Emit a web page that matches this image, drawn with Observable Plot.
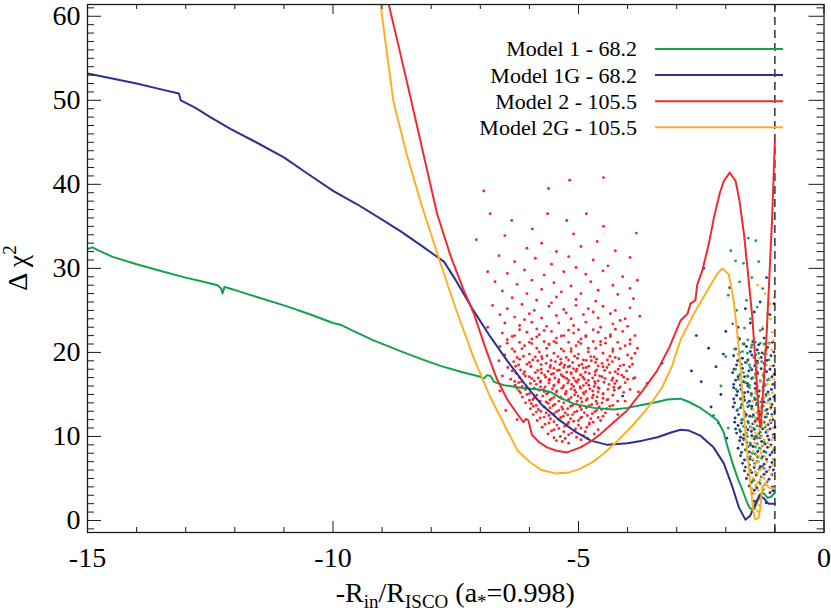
<!DOCTYPE html>
<html><head><meta charset="utf-8">
<script src="https://cdn.jsdelivr.net/npm/d3@7"></script>
<script src="https://cdn.jsdelivr.net/npm/@observablehq/plot@0.6"></script>
<style>body{margin:0;background:#fff} svg{display:block} svg text{font-family:"Liberation Serif","Times New Roman",Times,serif}</style>
</head><body><div id="chart"></div>
<script>
// ---------- data ----------
const xMajor = [-15, -10, -5, 0];
const xMinor = [-14, -13, -12, -11, -9, -8, -7, -6, -4, -3, -2, -1];
const yMajor = [0, 10, 20, 30, 40, 50, 60];
const yMinor = [-1,1,2,3,4,5,6,7,8,9,11,12,13,14,15,16,17,18,19,21,22,23,24,25,26,27,28,29,31,32,33,34,35,36,37,38,39,41,42,43,44,45,46,47,48,49,51,52,53,54,55,56,57,58,59,61];

const legendLabels = ["Model 1 - 68.2", "Model 1G - 68.2", "Model 2 - 105.5", "Model 2G - 105.5"];
const seriesColors = ["#14a14f", "#2b3190", "#ee2b31", "#fbb126"];
const rinLine = [-1];

const model1 = [[-15,32.3],[-14.9,32.5],[-14.8,32.2],[-14.5,31.4],[-14.0,30.5],[-13.45,29.6],[-13.0,28.9],[-12.64,28.4],[-12.35,28.0],[-12.28,27.6],[-12.25,27.0],[-12.21,27.8],[-12.1,27.6],[-11.88,27.2],[-11.5,26.5],[-11.0,25.6],[-10.5,24.6],[-10.0,23.5],[-9.85,23.3],[-9.6,22.6],[-9.2,21.5],[-8.6,20.1],[-8.2,19.2],[-7.81,18.4],[-7.4,17.7],[-7.0,17.1],[-6.93,16.9],[-6.86,17.3],[-6.79,17.2],[-6.72,16.5],[-6.52,16.1],[-6.18,15.8],[-5.8,15.6],[-5.57,15.3],[-5.37,14.6],[-5.1,13.9],[-4.69,13.4],[-4.29,13.2],[-4.0,13.4],[-3.74,13.7],[-3.4,14.1],[-3.19,14.4],[-2.92,14.5],[-2.75,14.1],[-2.52,13.4],[-2.35,12.7],[-2.17,11.9],[-2.05,10.6],[-1.97,8.9],[-1.84,6.4],[-1.75,4.9],[-1.66,3.6],[-1.55,1.9],[-1.5,1.4],[-1.42,1.4],[-1.36,2.2],[-1.31,3.0],[-1.26,3.3],[-1.22,3.2],[-1.15,2.7],[-1.08,2.8],[-1.05,3.0],[-1.0,3.3]];

const model1G = [[-15,53.2],[-14.5,52.6],[-14.0,52.0],[-13.5,51.3],[-13.14,50.8],[-13.1,50.0],[-12.8,49.1],[-12.5,48.0],[-12.09,46.6],[-11.5,44.8],[-11.0,43.2],[-10.5,41.2],[-9.99,39.2],[-9.5,37.6],[-9.0,35.8],[-8.62,34.4],[-8.2,32.7],[-7.74,30.8],[-7.5,28.6],[-7.14,25.0],[-6.8,21.9],[-6.45,19.0],[-6.1,16.3],[-5.77,13.9],[-5.4,12.0],[-5.1,10.7],[-4.75,9.5],[-4.41,9.0],[-4.0,9.2],[-3.7,9.5],[-3.39,9.9],[-3.1,10.5],[-2.92,10.8],[-2.75,10.7],[-2.52,10.1],[-2.25,8.7],[-2.04,6.8],[-1.86,3.9],[-1.73,1.5],[-1.6,0.1],[-1.5,0.6],[-1.39,2.1],[-1.31,3.0],[-1.22,2.6],[-1.13,2.0],[-1.0,2.0]];

const model2 = [[-8.95,63.5],[-8.69,57.1],[-8.42,50.3],[-8.15,43.4],[-7.88,36.5],[-7.6,31.4],[-7.35,27.6],[-7.13,24.6],[-6.9,20.6],[-6.66,16.8],[-6.45,14.4],[-6.25,12.7],[-6.12,11.7],[-6.07,12.1],[-6.02,11.9],[-5.95,10.2],[-5.8,9.3],[-5.64,8.7],[-5.45,8.3],[-5.23,8.1],[-4.96,8.7],[-4.75,9.4],[-4.55,10.3],[-4.3,11.6],[-4.01,13.1],[-3.7,15.4],[-3.4,17.8],[-3.15,20.6],[-2.92,23.8],[-2.78,24.6],[-2.72,25.8],[-2.62,26.2],[-2.58,28.1],[-2.48,29.7],[-2.35,32.8],[-2.24,36.1],[-2.12,39.0],[-2.04,40.4],[-1.92,41.4],[-1.8,40.4],[-1.72,38.0],[-1.63,34.1],[-1.55,29.5],[-1.46,24.2],[-1.38,17.5],[-1.33,12.3],[-1.29,11.1],[-1.23,16.3],[-1.17,22.0],[-1.12,28.1],[-1.06,35.5],[-1.02,42.0],[-1.0,45.2]];

const model2G = [[-9.15,64],[-9.03,61.4],[-8.9,55.5],[-8.77,49.9],[-8.5,43.6],[-8.22,38.0],[-8.0,34.0],[-7.81,30.6],[-7.5,25.2],[-7.14,19.4],[-6.79,14.6],[-6.45,10.7],[-6.24,8.3],[-5.98,6.9],[-5.75,6.0],[-5.47,5.6],[-5.2,5.7],[-4.95,6.2],[-4.7,7.0],[-4.48,8.0],[-4.2,9.5],[-3.9,11.3],[-3.6,13.3],[-3.3,15.8],[-3.1,18.3],[-2.92,21.5],[-2.65,24.6],[-2.38,27.3],[-2.18,29.3],[-2.07,30.0],[-1.94,29.3],[-1.84,26.2],[-1.77,22.5],[-1.7,18.2],[-1.6,10.3],[-1.5,4.4],[-1.44,1.2],[-1.4,0.1],[-1.33,0.3],[-1.29,1.8],[-1.26,4.0],[-1.19,4.4],[-1.12,3.9],[-1.0,3.8]];

// scattered points
const redCloud = [[-6.93,39.2],[-5.18,40.5],[-4.49,40.8],[-5.61,39.5],[-6.8,36.5],[-6.36,35.7],[-5.63,36.5],[-4.84,36.5],[-5.24,35.7],[-4.49,35.0],
[-5.94,34.7],[-7.08,33.4],[-6.5,33.9],[-3.82,34.2],[-5.1,34.1],[-5.75,33.0],[-4.62,33.2],[-6.05,32.4],[-5.45,32.0],[-4.95,32.6],[-4.25,32.1],[-6.62,31.5],[-5.88,31.2],[-5.2,31.4],[-4.7,31.0],[-3.95,31.3],[-6.3,30.8],[-5.55,30.5],[-4.4,30.3],[-5.05,30.1],
[-6.85,29.6],[-6.45,29.4],[-6.1,29.8],[-5.7,29.2],[-5.3,29.6],[-4.85,29.3],[-4.5,29.7],[-4.1,29.0],[-3.8,28.6],[-6.7,28.4],[-6.25,28.1],[-5.95,28.6],[-5.5,28.3],[-5.15,27.9],[-4.75,28.4],[-4.3,28.0],[-3.95,27.6],[-6.55,27.3],[-6.05,27.0],[-5.75,27.5],[-5.35,27.2],[-4.95,27.0],[-4.6,27.4],[-4.2,26.9],[-6.35,26.5],[-5.85,26.2],[-5.45,26.6],[-5.05,26.3],[-4.65,26.1],[-3.88,26.4],
[-6.75,25.6],[-6.45,25.2],[-6.15,25.7],[-5.9,25.0],[-5.6,25.5],[-5.3,25.1],[-5.05,25.6],[-4.8,25.2],[-4.5,25.5],[-4.25,25.0],[-3.95,25.3],[-6.6,24.5],[-6.3,24.2],[-6.0,24.6],[-5.75,24.1],[-5.45,24.4],[-5.15,24.0],[-4.9,24.5],[-4.6,24.1],[-4.35,24.6],[-4.05,24.0],[-3.75,24.3],[-6.5,23.5],[-6.2,23.2],[-5.95,23.6],[-5.65,23.1],[-5.4,23.5],[-5.1,23.2],[-4.85,23.6],[-4.55,23.0],[-4.3,23.4],[-4.0,23.1],[-6.85,23.0],[-5.55,25.9],[-4.7,24.8],[-5.25,24.7],[-6.1,23.9],[-4.15,23.8],[-5.85,22.8],[-5.0,22.7],
[-6.55,22.3],[-6.3,22.0],[-6.05,22.4],[-5.8,22.1],[-5.55,22.5],[-5.3,22.0],[-5.1,22.3],[-4.85,22.0],[-4.6,22.4],[-4.35,22.1],[-4.1,22.5],[-3.85,22.0],
[-6.45,21.5],[-6.2,21.2],[-5.95,21.6],[-5.7,21.3],[-5.45,21.7],[-5.2,21.2],[-4.95,21.6],[-4.7,21.3],[-4.45,21.7],[-4.2,21.2],[-3.95,21.5],
[-6.6,20.7],[-6.35,20.4],[-6.1,20.8],[-5.85,20.5],[-5.6,20.9],[-5.35,20.4],[-5.05,20.8],[-4.8,20.5],[-4.55,20.9],[-4.3,20.4],[-4.05,20.8],[-3.8,20.5],
[-6.5,19.7],[-6.25,19.4],[-6.0,19.8],[-5.75,19.5],[-5.5,19.9],[-5.25,19.4],[-5.0,19.8],[-4.75,19.5],[-4.5,19.9],[-4.25,19.4],[-4.0,19.7],[-5.6,21.0],[-5.15,20.1],[-4.9,19.1],
[-6.32,18.9],[-6.05,18.6],[-5.83,19.0],[-5.66,18.7],[-5.47,18.9],[-5.28,18.5],[-5.12,18.8],[-4.93,18.6],[-4.74,19.0],[-4.52,18.7],[-4.31,18.9],[-4.08,18.5],
[-6.44,18.2],[-6.18,17.9],[-5.97,18.3],[-5.76,18.0],[-5.58,18.2],[-5.39,17.9],[-5.21,18.3],[-5.03,18.0],[-4.84,18.2],[-4.63,17.9],[-4.42,18.2],[-4.19,18.0],[-3.96,18.3],
[-6.27,17.5],[-6.08,17.2],[-5.88,17.6],[-5.69,17.3],[-5.51,17.5],[-5.33,17.2],[-5.15,17.6],[-4.96,17.3],[-4.78,17.5],[-4.57,17.2],[-4.36,17.6],[-4.12,17.3],
[-6.38,16.8],[-6.16,16.5],[-5.95,16.9],[-5.77,16.6],[-5.59,16.8],[-5.41,16.5],[-5.24,16.9],[-5.06,16.6],[-4.88,16.8],[-4.67,16.5],[-4.46,16.9],[-4.22,16.6],[-4.0,16.8],
[-6.29,16.1],[-6.07,15.8],[-5.86,16.2],[-5.68,15.9],[-5.5,16.1],[-5.32,15.8],[-5.14,16.2],[-4.97,15.9],[-4.79,16.1],[-4.6,15.8],[-4.38,16.2],[-4.15,15.9],
[-6.21,15.4],[-6.0,15.1],[-5.8,15.5],[-5.62,15.2],[-5.44,15.4],[-5.26,15.1],[-5.08,15.5],[-4.9,15.2],[-4.71,15.4],[-4.5,15.1],[-4.27,15.5],
[-6.14,14.7],[-5.93,14.4],[-5.73,14.8],[-5.55,14.5],[-5.37,14.7],[-5.19,14.4],[-5.01,14.8],[-4.82,14.5],[-4.62,14.7],[-4.4,14.4],
[-6.08,14.0],[-5.86,13.7],[-5.66,14.1],[-5.48,13.8],[-5.3,14.0],[-5.12,13.7],[-4.93,14.1],[-4.73,13.8],[-4.52,14.0],[-4.3,13.7],
[-5.98,13.3],[-5.77,13.0],[-5.58,13.4],[-5.4,13.1],[-5.22,13.3],[-5.03,13.0],[-4.84,13.4],[-4.63,13.1],[-4.42,13.3],
[-5.92,12.6],[-5.7,12.3],[-5.5,12.7],[-5.31,12.4],[-5.12,12.6],[-4.93,12.3],[-4.72,12.7],[-4.5,12.4],
[-5.84,11.9],[-5.6,11.6],[-5.4,12.0],[-5.2,11.7],[-5.0,11.9],[-4.78,11.6],[-4.55,11.9],
[-5.74,11.1],[-5.5,10.8],[-5.28,11.2],[-5.06,10.9],[-4.83,11.1],[-4.6,10.8],
[-5.62,10.3],[-5.37,10.0],[-5.14,10.4],[-4.9,10.1],[-4.68,10.3],
[-5.45,9.5],[-5.2,9.2],[-4.95,9.6],
[-5.57,18.45],[-5.38,18.55],[-5.18,18.35],[-4.99,18.45],[-4.79,18.35],
[-5.62,17.75],[-5.43,17.85],[-5.24,17.65],[-5.05,17.75],[-4.86,17.65],
[-5.67,17.05],[-5.48,16.95],[-5.29,17.05],[-5.1,16.95],[-4.91,17.05],[-4.71,16.95],
[-5.6,16.35],[-5.41,16.45],[-5.22,16.35],[-5.03,16.45],[-4.84,16.35],
[-5.53,15.65],[-5.34,15.75],[-5.15,15.65],[-4.96,15.75],[-4.77,15.65],
[-5.46,14.95],[-5.27,15.05],[-5.08,14.95],[-4.89,15.05],
[-6.55,17.2],[-6.6,15.4],[-6.48,13.1],[-3.85,17.0],[-3.78,15.3],[-4.05,14.2],[-6.25,12.0],[-4.2,12.6],[-3.92,19.3],[-6.62,19.0],
[-6.2,19.2],[-5.93,19.1],[-5.74,19.25],[-5.56,19.05],[-5.36,19.2],[-5.2,19.1],[-5.02,19.3],[-4.84,19.05],[-4.63,19.2],[-4.41,19.1],[-4.18,19.25],
[-6.22,18.5],[-5.97,18.4],[-5.76,18.55],[-4.6,18.4],[-4.38,18.55],[-4.15,18.4],[-3.9,18.6],
[-6.35,17.8],[-6.1,17.7],[-5.83,17.85],[-4.66,17.7],[-4.47,17.85],[-4.25,17.7],[-4.02,17.8],
[-6.2,17.0],[-6.0,17.1],[-5.82,16.95],[-4.52,17.1],[-4.3,16.95],[-4.08,17.05],[-3.88,16.9],
[-6.22,16.4],[-5.98,16.3],[-5.78,16.45],[-4.66,16.3],[-4.48,16.45],[-4.26,16.3],[-4.05,16.4],
[-6.25,15.7],[-6.08,15.6],[-5.9,15.75],[-5.71,15.6],[-4.58,15.7],[-4.4,15.6],[-4.18,15.75],[-3.95,15.6],
[-6.05,15.0],[-5.85,14.9],[-5.65,15.05],[-4.7,14.9],[-4.5,15.05],[-4.3,14.9],
[-6.0,14.3],[-5.78,14.2],[-5.58,14.35],[-5.4,14.2],[-5.21,14.35],[-5.03,14.2],[-4.84,14.3],[-4.64,14.2],[-4.42,14.35],[-4.2,14.2],
[-5.92,13.6],[-5.7,13.5],[-5.52,13.65],[-5.34,13.5],[-5.16,13.6],[-4.97,13.5],[-4.78,13.65],[-4.58,13.5],[-4.36,13.6],
[-5.86,12.9],[-5.66,12.8],[-5.45,12.95],[-5.27,12.8],[-5.08,12.9],[-4.88,12.8],[-4.67,12.95],[-4.45,12.8],
[-5.78,12.2],[-5.57,12.1],[-5.36,12.25],[-5.16,12.1],[-4.96,12.2],[-4.75,12.1],[-4.6,12.25],
[-5.68,11.45],[-5.44,11.35],[-5.22,11.5],[-5.0,11.35],[-4.78,11.45],
[-5.55,10.65],[-5.3,10.55],[-5.08,10.7],[-4.86,10.55],
[-5.5,9.85],[-5.27,9.75],[-5.04,9.9],[-4.82,9.8],
[-5.5,18.1],[-5.3,18.2],[-5.1,18.05],[-4.9,18.15],[-5.55,17.4],[-5.35,17.35],[-5.15,17.45],[-4.95,17.35],[-5.6,16.7],[-5.4,16.75],[-5.2,16.65],[-5.0,16.75],[-4.8,16.65],[-5.5,16.0],[-5.3,16.05],[-5.1,15.95],[-4.9,16.05],[-5.45,15.3],[-5.25,15.35],[-5.05,15.25],[-4.85,15.35],[-5.35,14.55],[-5.15,14.65],[-4.95,14.55],
[-6.2,22.7],[-5.7,22.6],[-5.2,22.65],[-4.7,22.7],[-4.25,22.75],[-6.35,21.9],[-5.85,21.85],[-5.35,21.95],[-4.85,21.85],[-4.35,21.9],[-6.45,21.1],[-5.95,21.05],[-5.45,21.15],[-4.95,21.05],[-4.45,21.1],[-3.95,21.0],[-6.3,20.1],[-5.8,20.05],[-5.3,20.15],[-4.8,20.05],[-4.3,20.1],[-3.85,19.9],
[-6.12,19.55],[-5.88,19.45],[-5.64,19.6],[-5.42,19.5],[-5.08,19.55],[-4.68,19.45],[-4.36,19.55],[-6.0,18.8],[-5.35,18.75],[-4.65,18.8],[-6.28,18.35],[-4.5,18.3],[-6.12,17.45],[-5.75,17.55],[-4.66,17.3],[-4.2,17.45],[-6.3,16.55],[-5.9,16.6],[-4.6,16.6],[-4.32,16.7],[-6.15,15.95],[-5.77,15.9],[-4.68,15.95],[-4.28,15.85],[-6.18,15.2],[-5.7,15.35],[-4.6,15.3],[-4.08,15.25],[-5.9,14.6],[-5.5,14.65],[-4.72,14.6],[-4.5,14.55],[-5.96,13.9],[-5.62,13.95],[-5.05,13.85],[-4.62,13.9],[-5.82,13.2],[-5.32,13.25],[-4.94,13.2],[-4.53,13.2],[-5.6,12.5],[-5.22,12.55],[-4.82,12.5],[-5.5,11.75],[-5.1,11.8],[-4.7,11.7],[-5.4,10.95],[-4.95,11.0],[-5.2,10.2],[-5.33,9.4],[-6.0,21.2],[-5.5,21.3],[-5.0,21.25],[-4.55,21.3],[-6.15,20.45],[-5.65,20.5],[-5.15,20.45],[-4.65,20.5],[-4.15,20.45]];

const blueCloud = [[-2.45,30.0],[-1.92,27.7],[-1.17,28.9],[-2.6,22.0],[-2.35,20.5],[-2.2,18.3],[-2.5,16.5],[-2.1,15.0],[-2.3,13.5],[-2.0,22.5],[-1.3,26.0],[-1.6,25.2],[-2.05,19.8],[-1.1,24.5],[-2.7,17.8],[-3.6,16.3],[-3.3,18.7],[-4.1,14.8],[-2.15,11.6],[-1.98,9.8],[-1.5,23.5],[-1.25,22.8],[-1.75,23.0],[-1.02,25.8],[-1.42,24.8],
[-1.72,21.6],[-1.45,21.3],[-1.22,21.7],[-1.05,21.2],
[-1.8,20.4],[-1.58,20.7],[-1.36,20.3],[-1.15,20.6],
[-1.84,19.6],[-1.66,19.3],[-1.47,19.7],[-1.28,19.4],[-1.08,19.6],
[-1.78,18.5],[-1.6,18.8],[-1.41,18.4],[-1.22,18.7],[-1.03,18.4],
[-1.86,17.6],[-1.7,17.4],[-1.53,17.8],[-1.35,17.5],[-1.17,17.7],[-1.01,17.4],
[-1.8,16.7],[-1.64,16.5],[-1.47,16.9],[-1.3,16.6],[-1.12,16.8],
[-1.84,15.8],[-1.69,15.6],[-1.55,16.0],[-1.4,15.7],[-1.24,15.9],[-1.07,15.6],
[-1.78,14.9],[-1.63,14.7],[-1.48,15.1],[-1.33,14.8],[-1.18,15.0],[-1.02,14.7],
[-1.82,14.0],[-1.67,13.8],[-1.52,14.2],[-1.37,13.9],[-1.22,14.1],[-1.06,13.8],
[-1.77,13.1],[-1.62,12.9],[-1.47,13.3],[-1.32,13.0],[-1.16,13.2],[-1.01,12.9],
[-1.81,12.2],[-1.66,12.0],[-1.51,12.4],[-1.36,12.1],[-1.2,12.3],[-1.04,12.0],
[-1.75,11.3],[-1.6,11.1],[-1.45,11.5],[-1.3,11.2],[-1.14,11.4],[-1.0,11.1],
[-1.78,10.4],[-1.63,10.2],[-1.48,10.6],[-1.33,10.3],[-1.18,10.5],[-1.03,10.2],
[-1.72,9.5],[-1.57,9.3],[-1.42,9.7],[-1.27,9.4],[-1.12,9.6],
[-1.75,8.6],[-1.6,8.4],[-1.45,8.8],[-1.3,8.5],[-1.15,8.7],[-1.02,8.4],
[-1.7,7.7],[-1.55,7.5],[-1.4,7.9],[-1.25,7.6],[-1.1,7.8],
[-1.66,6.8],[-1.52,6.6],[-1.37,7.0],[-1.22,6.7],[-1.06,6.9],
[-1.62,5.9],[-1.47,5.7],[-1.32,6.1],[-1.17,5.8],[-1.03,6.0],
[-1.58,5.0],[-1.43,4.8],[-1.28,5.2],[-1.12,4.9],
[-1.52,4.1],[-1.37,3.9],[-1.2,4.3],[-1.05,4.0],
[-1.47,3.2],[-1.3,3.0],[-1.1,3.3],
[-1.42,2.3],[-1.18,2.1],
[-1.7,16.1],[-1.55,15.3],[-1.62,14.3],[-1.47,13.6],[-1.58,12.6],[-1.4,11.8],[-1.55,10.8],[-1.38,10.0],[-1.5,9.0],[-1.35,8.2],[-1.45,7.2],[-1.3,6.4],[-1.62,17.1],[-1.4,16.3],[-1.25,14.5],[-1.15,12.7],[-1.25,10.9],[-1.2,9.1],[-1.68,11.6],[-1.7,9.9],
[-1.63,21.0],[-1.33,20.9],[-1.12,21.1],[-1.72,20.0],[-1.5,20.1],[-1.26,19.95],[-1.02,20.05],[-1.76,19.0],[-1.55,19.1],[-1.36,18.95],[-1.16,19.05],
[-1.83,18.0],[-1.66,18.1],[-1.47,17.95],[-1.28,18.05],[-1.1,18.0],[-1.75,17.1],[-1.55,17.15],[-1.22,17.0],[-1.06,17.1],
[-1.84,16.2],[-1.56,16.3],[-1.22,16.25],[-1.04,16.2],[-1.76,15.35],[-1.62,15.2],[-1.32,15.4],[-1.14,15.3],
[-1.84,14.45],[-1.7,14.5],[-1.4,14.4],[-1.1,14.45],[-1.85,13.5],[-1.7,13.4],[-1.55,13.55],[-1.27,13.5],[-1.08,13.45],
[-1.74,12.6],[-1.44,12.55],[-1.3,12.65],[-1.06,12.6],[-1.82,11.7],[-1.55,11.75],[-1.22,11.7],[-1.08,11.65],
[-1.8,10.9],[-1.7,10.6],[-1.42,10.85],[-1.1,10.9],[-1.64,9.75],[-1.47,10.1],[-1.3,9.85],[-1.15,10.05],[-1.02,9.9],
[-1.66,9.05],[-1.36,9.1],[-1.08,9.0],[-1.68,8.1],[-1.52,8.15],[-1.22,8.2],[-1.06,8.1],
[-1.62,7.2],[-1.5,7.3],[-1.35,7.55],[-1.17,7.25],[-1.02,7.3],[-1.6,6.35],[-1.42,6.3],[-1.26,6.4],[-1.1,6.35],
[-1.54,5.45],[-1.38,5.4],[-1.22,5.5],[-1.06,5.45],[-1.48,4.55],[-1.32,4.5],[-1.16,4.6],[-1.42,3.6],[-1.24,3.7],[-1.04,3.55]];

const greenCloud = [[-1.54,33.6],[-1.39,33.3],[-1.9,32.1],[-1.8,30.9],[-1.33,30.8],[-1.64,30.6],[-1.72,28.4],[-1.47,28.9],[-1.25,27.6],[-1.95,26.8],[-1.58,26.2],[-1.36,25.4],[-1.78,25.0],[-1.15,24.6],[-1.5,24.0],[-1.86,23.4],[-1.62,22.9],[-1.3,22.6],
[-1.75,21.8],[-1.55,21.5],[-1.4,21.2],[-1.22,21.0],
[-1.82,20.4],[-1.66,20.1],[-1.48,20.6],[-1.33,19.9],[-1.18,20.3],
[-1.72,19.2],[-1.58,18.8],[-1.43,19.4],[-1.27,18.9],[-1.12,19.1],
[-1.8,18.0],[-1.64,17.6],[-1.5,18.2],[-1.36,17.7],[-1.2,17.9],
[-1.74,16.8],[-1.6,16.4],[-1.45,17.0],[-1.3,16.5],[-1.15,16.7],
[-1.79,15.6],[-1.66,15.2],[-1.52,15.8],[-1.38,15.3],[-1.23,15.5],
[-1.7,14.4],[-1.56,14.0],[-1.42,14.6],[-1.28,14.1],[-1.13,14.3],
[-1.76,13.2],[-1.62,12.8],[-1.47,13.4],[-1.33,12.9],[-1.19,13.1],
[-1.68,12.0],[-1.54,11.6],[-1.4,12.2],[-1.25,11.7],[-1.1,11.9],
[-1.72,10.8],[-1.58,10.4],[-1.44,11.0],[-1.3,10.5],[-1.16,10.7],
[-1.64,9.6],[-1.5,9.2],[-1.36,9.8],[-1.22,9.3],
[-1.6,8.4],[-1.46,8.0],[-1.32,8.6],[-1.18,8.1],
[-1.55,7.2],[-1.41,6.8],[-1.27,7.4],
[-1.5,6.0],[-1.36,5.6],[-1.22,6.2],
[-1.44,4.8],[-1.3,4.4],
[-2.1,16.0],[-2.25,12.5],[-2.0,19.5],[-1.95,11.0],
[-1.65,21.0],[-1.47,20.9],[-1.3,21.1],[-1.74,19.8],[-1.56,19.9],[-1.39,19.7],[-1.22,19.8],[-1.68,18.6],[-1.52,18.5],[-1.35,18.7],[-1.18,18.5],[-1.72,17.3],[-1.56,17.2],[-1.4,17.4],[-1.24,17.25],[-1.68,16.0],[-1.52,16.1],[-1.36,15.95],[-1.2,16.05],[-1.64,14.8],[-1.48,14.9],[-1.33,14.75],[-1.18,14.85],[-1.68,13.7],[-1.52,13.65],[-1.38,13.75],[-1.24,13.6],[-1.6,12.4],[-1.46,12.35],[-1.32,12.45],[-1.17,12.3],[-1.64,11.2],[-1.5,11.15],[-1.36,11.25],[-1.2,11.1],[-1.56,10.0],[-1.42,9.95],[-1.28,10.05],[-1.54,8.8],[-1.4,8.75],[-1.26,8.85],[-1.5,7.6],[-1.35,7.55]];

const orangeCloud = [[-1.05,22.4],[-1.12,21.0],[-1.2,20.2],[-1.0,19.6],[-1.32,19.3],[-1.08,18.4],[-1.25,17.5],[-1.4,17.0],[-1.02,16.8],[-1.15,16.2],[-1.35,15.6],[-1.05,15.2],[-1.22,14.6],[-1.45,14.2],[-1.1,13.9],[-1.3,13.4],[-1.0,13.0],[-1.18,12.6],[-1.4,12.2],[-1.08,11.8],[-1.27,11.4],[-1.48,11.0],[-1.15,10.6],[-1.35,10.2],[-1.03,10.0],[-1.22,9.6],[-1.42,9.2],[-1.1,8.8],[-1.3,8.4],[-1.38,7.8],[-1.2,7.6],[-1.02,7.4],[-1.33,7.0],[-1.41,6.5],[-1.26,6.2],[-1.12,6.0],[-1.36,5.6],[-1.44,5.0],[-1.3,4.8],[-1.18,4.6],[-1.39,4.2],[-1.34,3.6],[-1.42,3.2],[-1.28,3.0],[-1.37,2.4],[-1.32,1.8],[-1.4,1.4],
[-1.36,9.0],[-1.32,10.8],[-1.4,10.4],[-1.28,9.9],[-1.35,11.8],[-1.44,8.2],[-1.24,8.9],[-1.31,6.0],[-1.38,6.9],[-1.27,5.3],[-1.35,4.5],[-1.06,12.4],[-1.02,14.4],[-1.07,9.6],[-1.04,6.6],[-1.13,15.0],[-1.0,17.8],[-1.16,19.8],[-1.03,21.4],[-1.09,24.0],[-1.02,26.5],[-1.25,23.0],[-1.2,27.0],[-1.35,28.0],[-1.1,25.8],
[-1.38,12.8],[-1.26,12.9],[-1.12,13.3],[-1.44,13.2],[-1.33,14.1],[-1.16,14.0],[-1.4,15.1],[-1.25,15.5],[-1.1,16.8],[-1.3,16.5],[-1.2,18.5],[-1.36,18.2],[-1.06,20.3],[-1.42,11.5],[-1.18,11.3],[-1.04,11.0],[-1.46,9.8],[-1.15,9.2],[-1.02,8.6],[-1.46,7.3],[-1.16,7.0],[-1.08,5.4],[-1.22,5.0],[-1.46,3.8],[-1.22,3.8],[-1.3,2.5],[-1.42,2.0],[-1.35,1.1],[-1.28,8.0],[-1.32,7.6],[-1.4,5.8],[-1.24,11.8]];

// ---------- layout ----------
const FONT = "Liberation Serif, Times New Roman, Times, serif";
const W = 831, H = 611, mL = 87, mR = 7.5, mT = 4, mB = 79;
const innerW = W - mL - mR, innerH = H - mT - mB;
const [GREEN, BLUE, RED, ORANGE] = seriesColors;
const px = d => d[0], py = d => d[1];
const AX = "#1a1a1a";

const chart = Plot.plot({
  width: W, height: H,
  marginLeft: mL, marginRight: mR, marginTop: mT, marginBottom: mB,
  style: {fontFamily: FONT, background: "#fff", color: "#000"},
  x: {domain: [-15, 0]},
  y: {domain: [-1.43, 61.4]},
  marks: [
    Plot.dot(redCloud, {x: px, y: py, r: 1.45, fill: RED, clip: true}),
    Plot.dot(blueCloud, {x: px, y: py, r: 1.45, fill: BLUE, clip: true}),
    Plot.dot(greenCloud, {x: px, y: py, r: 1.4, fill: GREEN, clip: true}),
    Plot.dot(orangeCloud, {x: px, y: py, r: 1.4, fill: ORANGE, clip: true}),
    Plot.ruleX(rinLine, {x: d => d, stroke: "#000", strokeWidth: 1.2, strokeDasharray: "8,5"}),
    Plot.line(model1, {x: px, y: py, stroke: GREEN, strokeWidth: 2, clip: true}),
    Plot.line(model1G, {x: px, y: py, stroke: BLUE, strokeWidth: 2, clip: true}),
    Plot.line(model2, {x: px, y: py, stroke: RED, strokeWidth: 2, clip: true}),
    Plot.line(model2G, {x: px, y: py, stroke: ORANGE, strokeWidth: 2, clip: true}),
    // inward ticks on all four sides
    Plot.tickX(xMajor, {x: d => d, insetTop: innerH - 11, stroke: AX}),
    Plot.tickX(xMajor, {x: d => d, insetBottom: innerH - 10, stroke: AX}),
    Plot.tickX(xMinor, {x: d => d, insetTop: innerH - 5, stroke: AX}),
    Plot.tickX(xMinor, {x: d => d, insetBottom: innerH - 5, stroke: AX}),
    Plot.tickY(yMajor, {y: d => d, insetRight: innerW - 14, stroke: AX}),
    Plot.tickY(yMajor, {y: d => d, insetLeft: innerW - 15, stroke: AX}),
    Plot.tickY(yMinor, {y: d => d, insetRight: innerW - 7, stroke: AX}),
    Plot.tickY(yMinor, {y: d => d, insetLeft: innerW - 7, stroke: AX}),
    Plot.axisX(xMajor, {tickSize: 0, tickPadding: 15, fontSize: 28, fontFamily: FONT, tickFormat: d => String(d), label: null, fill: "#000"}),
    Plot.axisY(yMajor, {tickSize: 0, tickPadding: 7, fontSize: 28, fontFamily: FONT, tickFormat: d => String(d), label: null, fill: "#000"}),
    Plot.frame({stroke: AX, strokeWidth: 1.3})
  ]
});
document.getElementById("chart").appendChild(chart);

// ---------- titles & legend ----------
const svg = d3.select(chart);
const xt = svg.append("text").attr("x", mL + innerW / 2).attr("y", 602)
  .attr("text-anchor", "middle").attr("font-family", FONT).attr("font-size", 28).attr("fill", "#000");
const parts = [["-R", 0], ["in", 1], ["/R", 0], ["ISCO", 1], [" (a", 0], ["*", 1], ["=0.998)", 0]];
let prevSub = 0;
for (const [t, sub] of parts) {
  const dy = (sub - prevSub) * 6;
  xt.append("tspan").attr("dy", dy).attr("font-size", sub ? 19 : 28).text(t);
  prevSub = sub;
}
const yt = svg.append("text").attr("transform", `translate(27,${mT + innerH / 2}) rotate(-90)`)
  .attr("text-anchor", "middle").attr("font-family", FONT).attr("font-size", 28).attr("fill", "#000");
yt.append("tspan").text("Δ χ");
yt.append("tspan").attr("dy", -11).attr("font-size", 19).text("2");

const lg = svg.append("g");
legendLabels.forEach((label, i) => {
  const yy = 49 + i * 26.1;
  lg.append("text").attr("x", 637).attr("y", yy).attr("dy", "0.34em")
    .attr("text-anchor", "end").attr("font-family", FONT).attr("font-size", 22).attr("fill", "#000").text(label);
  lg.append("line").attr("x1", 655).attr("x2", 783).attr("y1", yy).attr("y2", yy)
    .attr("stroke", seriesColors[i]).attr("stroke-width", 2);
});
</script>
</body></html>
